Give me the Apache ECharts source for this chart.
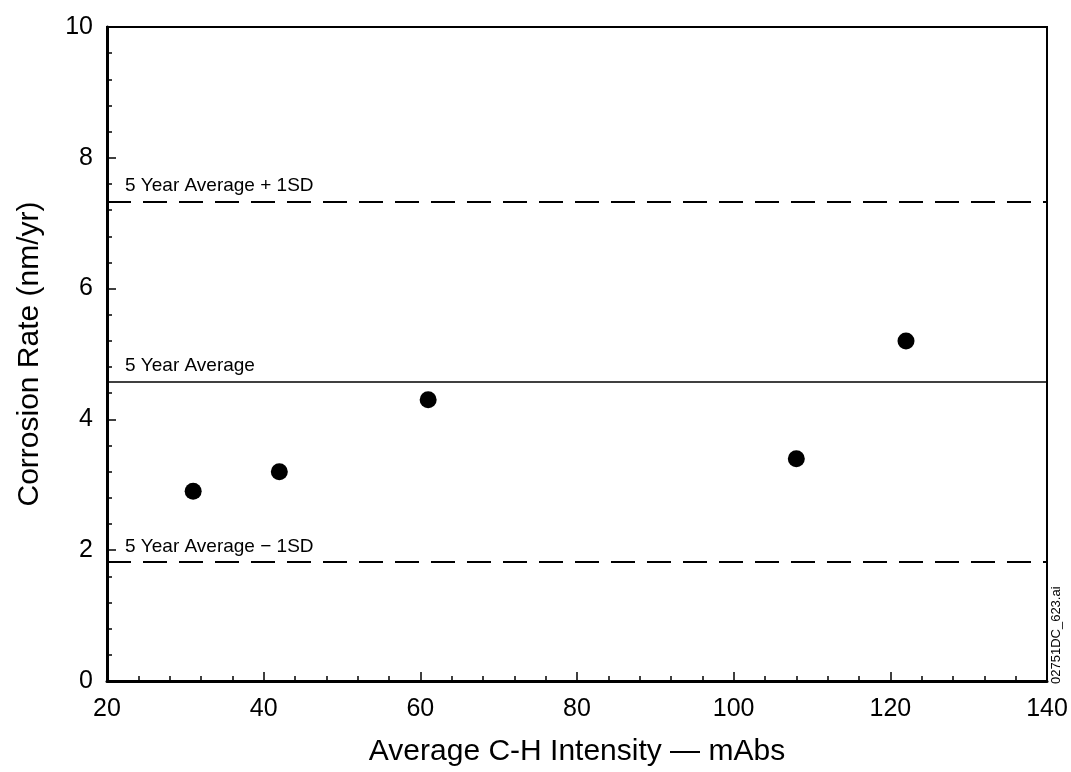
<!DOCTYPE html>
<html><head><meta charset="utf-8">
<script src="https://cdn.jsdelivr.net/npm/echarts@6/dist/echarts.min.js"></script>
<style>html,body{margin:0;padding:0;background:#fff}#c{width:1071px;height:772px}</style>
</head><body><div id="c"></div>
<script>
const intensity = [31, 42, 61, 108, 122];
const corrosionRate = [2.9, 3.2, 4.3, 3.4, 5.2];
const refNames = ['5 Year Average + 1SD', '5 Year Average', '5 Year Average \u2212 1SD'];
const refValues = [7.33, 4.58, 1.82];
const refDashed = [true, false, true];
const xTicks = [20, 40, 60, 80, 100, 120, 140];
const yTicks = [0, 2, 4, 6, 8, 10];

const F = 'Liberation Sans, Arial, sans-serif';
const chart = echarts.init(document.getElementById('c'), null, {renderer: 'canvas'});
const points = intensity.map((x, i) => [x, corrosionRate[i]]);
const markData = refValues.map((v, i) => ({
  yAxis: v,
  lineStyle: {type: refDashed[i] ? [24, 12] : 'solid', width: refDashed[i] ? 2 : 1.5, color: '#000'},
  label: {show: true, formatter: refNames[i], position: 'insideStartTop', distance: [18, 6],
          color: '#000', fontSize: 19, fontFamily: F}
}));
chart.setOption({
  animation: false,
  backgroundColor: '#fff',
  grid: {left: 107, right: 24, top: 27, bottom: 85, show: true, borderColor: '#000', borderWidth: 2},
  xAxis: {
    type: 'value', min: xTicks[0], max: xTicks[xTicks.length - 1], interval: 20,
    name: 'Average C-H Intensity \u2014 mAbs', nameLocation: 'middle', nameGap: 56,
    nameTextStyle: {fontSize: 30, fontFamily: F, color: '#000'},
    axisLine: {show: true, lineStyle: {color: '#000', width: 3}},
    axisTick: {show: true, inside: true, length: 9, lineStyle: {color: '#000', width: 1.5}},
    minorTick: {show: true, splitNumber: 5, length: 5, lineStyle: {color: '#000', width: 1.5}},
    splitLine: {show: false},
    axisLabel: {fontSize: 25, fontFamily: F, color: '#000', margin: 16}
  },
  yAxis: {
    type: 'value', min: yTicks[0], max: yTicks[yTicks.length - 1], interval: 2,
    name: 'Corrosion Rate (nm/yr)', nameLocation: 'middle', nameGap: 62,
    nameTextStyle: {fontSize: 30, fontFamily: F, color: '#000'},
    axisLine: {show: true, lineStyle: {color: '#000', width: 3}},
    axisTick: {show: true, inside: true, length: 9, lineStyle: {color: '#000', width: 1.5}},
    minorTick: {show: true, splitNumber: 5, length: 5, lineStyle: {color: '#000', width: 1.5}},
    splitLine: {show: false},
    axisLabel: {fontSize: 25, fontFamily: F, color: '#000', margin: 14}
  },
  series: [{
    type: 'scatter', data: points, symbol: 'circle', symbolSize: 17,
    itemStyle: {color: '#000', opacity: 1},
    markLine: {silent: true, symbol: ['none', 'none'], data: markData}
  }],
  graphic: [{
    type: 'text', x: 1050, y: 684, rotation: Math.PI / 2,
    style: {text: '02751DC_623.ai', fontSize: 13, fontFamily: F, fill: '#000', textAlign: 'left', textVerticalAlign: 'top'}
  }]
});
</script></body></html>
